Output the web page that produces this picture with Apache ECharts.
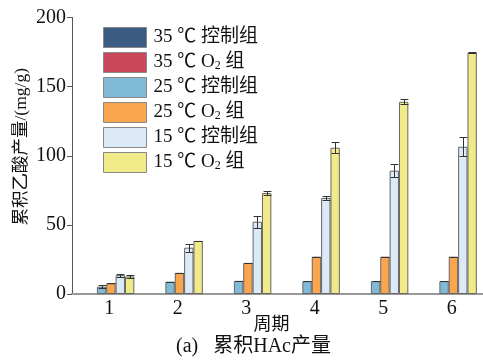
<!DOCTYPE html>
<html>
<head>
<meta charset="utf-8">
<style>
  html, body { margin: 0; padding: 0; background: #fff; }
  #chart { width: 483px; height: 362px; }
</style>
<script src="https://cdn.jsdelivr.net/npm/echarts@6/dist/echarts.min.js"></script>
</head>
<body>
<div id="chart"></div>
<script>
// Cycles on the x axis
const periods = ['1', '2', '3', '4', '5', '6'];

// Cumulative acetic acid yield (mg/g) per group and cycle
const c35Control = [null, null, null, null, null, null];
const c35O2 = [null, null, null, null, null, null];
const c25Control = [5.3, 8.9, 9.5, 9.3, 9.3, 9.3];
const c25O2 = [7.7, 15.3, 22.5, 27.0, 27.0, 27.0];
const c15Control = [13.6, 33.5, 52.3, 69.5, 89.2, 106.5];
const c15O2 = [12.7, 38.4, 73.0, 105.8, 139.0, 174.7];

// Standard deviations (mg/g)
const c25ControlErr = [1.2, 0, 0, 0, 0, 0];
const c25O2Err = [0, 0, 0, 0, 0, 0];
const c15ControlErr = [1.0, 3.0, 4.3, 1.2, 4.5, 7.0];
const c15O2Err = [0.8, 0, 1.5, 3.8, 1.7, 0.3];

const yTicks = [0, 50, 100, 150, 200];

const serif = "'Liberation Serif', 'Times New Roman', 'Noto Sans CJK SC', serif";
const catGap = 0.18;
const slotCount = 6;

const groups = [
  { name: '35 ℃ 控制组', data: c35Control, err: null, color: '#3b5b83' },
  { name: '35 ℃ O{sub|2} 组', data: c35O2, err: null, color: '#c9485a' },
  { name: '25 ℃ 控制组', data: c25Control, err: c25ControlErr, color: '#80bad7' },
  { name: '25 ℃ O{sub|2} 组', data: c25O2, err: c25O2Err, color: '#f9a64f' },
  { name: '15 ℃ 控制组', data: c15Control, err: c15ControlErr, color: '#dce9f6' },
  { name: '15 ℃ O{sub|2} 组', data: c15O2, err: c15O2Err, color: '#f1ea88' }
];

const barSeries = groups.map(g => ({
  type: 'bar',
  name: g.name,
  data: g.data,
  barGap: '0%',
  barCategoryGap: (catGap * 100) + '%',
  itemStyle: { color: g.color, borderColor: '#666', borderWidth: 1 },
  z: 2
}));

// Error bars drawn with the same slot layout as the grouped bars
const errSeries = [];
groups.forEach((g, slot) => {
  if (!g.err) return;
  errSeries.push({
    type: 'custom',
    z: 5,
    silent: true,
    data: g.data.map((v, i) => [i, v, g.err[i]]),
    encode: { x: 0, y: 1 },
    renderItem: function (params, api) {
      const ci = api.value(0);
      const v = api.value(1);
      const e = api.value(2);
      const bandW = api.size([1, 0])[0];
      const slotW = bandW * (1 - catGap) / slotCount;
      const c = api.coord([ci, v]);
      const x = Math.round(c[0] + (slot - slotCount / 2 + 0.5) * slotW) + 0.5;
      const yHi = Math.round(api.coord([ci, v + e])[1]) + 0.5;
      const yLo = Math.round(api.coord([ci, v - e])[1]) + 0.5;
      const half = slotW * 0.42;
      const style = { stroke: '#333', lineWidth: 1 };
      return {
        type: 'group',
        children: [
          { type: 'line', shape: { x1: x, y1: yHi, x2: x, y2: yLo }, style },
          { type: 'line', shape: { x1: x - half, y1: yHi, x2: x + half, y2: yHi }, style },
          { type: 'line', shape: { x1: x - half, y1: yLo, x2: x + half, y2: yLo }, style }
        ]
      };
    }
  });
});

const chart = echarts.init(document.getElementById('chart'), null, { renderer: 'canvas' });
chart.setOption({
  animation: false,
  backgroundColor: '#fff',
  title: {
    text: '(a)   累积HAc产量',
    left: 176,
    top: 337,
    padding: 0,
    textStyle: { fontFamily: serif, fontSize: 20, fontWeight: 'normal', color: '#111' }
  },
  legend: {
    orient: 'vertical',
    left: 98,
    top: 22,
    itemWidth: 43,
    itemHeight: 20,
    itemGap: 4,
    icon: 'rect',
    data: groups.map(g => g.name),
    itemStyle: { borderColor: '#888', borderWidth: 1 },
    textStyle: {
      fontFamily: serif,
      fontSize: 19,
      lineHeight: 19,
      color: '#111',
      padding: [0, 0, 0, 2],
      rich: {
        sub: { fontFamily: serif, fontSize: 12, lineHeight: 19, verticalAlign: 'bottom', padding: [7, 0, 0, 0], color: '#111' }
      }
    }
  },
  grid: { left: 72, right: -2, top: 17.5, bottom: 68, containLabel: false },
  xAxis: {
    type: 'category',
    data: periods,
    name: '周期',
    nameLocation: 'middle',
    nameGap: 22,
    nameMoveOverlap: false,
    nameTextStyle: { fontFamily: serif, fontSize: 18, color: '#111', padding: [0, 12, 0, 0] },
    axisLine: { lineStyle: { color: '#999', width: 2 } },
    axisTick: { show: false },
    axisLabel: { fontFamily: serif, fontSize: 20, color: '#111', margin: 5, padding: [0, 0, 0, 6] }
  },
  yAxis: {
    type: 'value',
    min: yTicks[0],
    max: yTicks[yTicks.length - 1],
    interval: yTicks[1] - yTicks[0],
    name: '累积乙酸产量/(mg/g)',
    nameLocation: 'middle',
    nameGap: 42,
    nameMoveOverlap: false,
    nameTextStyle: { fontFamily: serif, fontSize: 17.5, color: '#111', padding: [0, 0, 0, 18] },
    axisLine: { show: true, lineStyle: { color: '#555', width: 1 } },
    axisTick: { show: true, length: 5, lineStyle: { color: '#555' } },
    axisLabel: { fontFamily: serif, fontSize: 20, color: '#111', margin: 6 },
    splitLine: { show: false }
  },
  series: barSeries.concat(errSeries)
});
</script>
</body>
</html>
